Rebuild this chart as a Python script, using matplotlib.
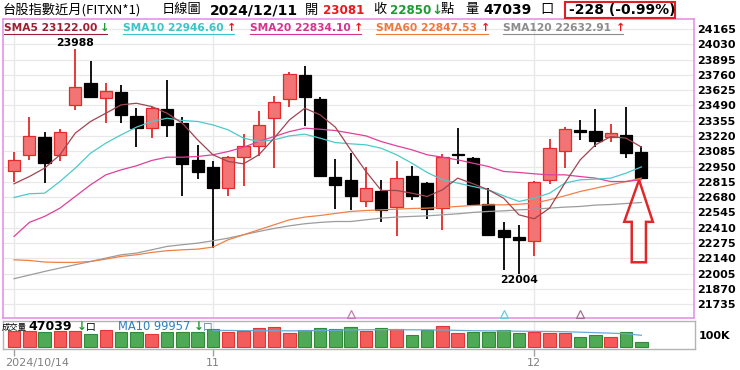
import numpy as np
import matplotlib
matplotlib.use('Agg')
import matplotlib.pyplot as plt
from matplotlib.patches import Rectangle, Polygon
from matplotlib.lines import Line2D

# DATA
# ############################################################################
opens = [22907, 23048, 23207, 23054, 23495, 23686, 23554, 23606, 23398, 23289,
         23459, 23333, 23009, 22942, 22757, 23033, 23133, 23383, 23551, 23759,
         23551, 22862, 22833, 22645, 22736, 22589, 22871, 22804, 22583, 23059,
         23024, 22621, 22392, 22327, 22295, 22833, 23089, 23274, 23268, 23209,
         23230, 23081]
highs = [23077, 23386, 23259, 23280, 23988, 23883, 23686, 23668, 23465, 23480,
         23715, 23386, 23142, 22995, 23045, 23236, 23445, 23574, 23789, 23839,
         23562, 23015, 23068, 22942, 22833, 22995, 22951, 22818, 23062, 23289,
         23033, 22759, 22465, 22436, 22825, 23192, 23298, 23362, 23457, 23324,
         23480, 23136]
lows = [22812, 23009, 22804, 22999, 23448, 23562, 23333, 23339, 23127, 23201,
        23215, 22686, 22839, 22230, 22686, 22780, 23039, 22936, 23480, 23304,
        22862, 22574, 22568, 22592, 22465, 22333, 22651, 22489, 22386, 22974,
        22609, 22339, 22040, 22004, 22157, 22798, 22936, 23186, 23127, 23165,
        23024, 22850]
closes = [23004, 23224, 22980, 23251, 23654, 23568, 23618, 23407, 23289, 23471,
          23318, 22974, 22898, 22765, 23033, 23133, 23318, 23521, 23771, 23568,
          22868, 22789, 22692, 22762, 22568, 22848, 22686, 22577, 23033, 23051,
          22618, 22348, 22327, 22304, 22818, 23112, 23283, 23259, 23180, 23245,
          23074, 22850]

sma5 = [22798, 22862, 22936, 23054, 23245, 23348, 23421, 23495, 23509, 23480,
        23421, 23333, 23186, 23054, 22995, 22974, 23054, 23201, 23362, 23465,
        23407, 23298, 23098, 22907, 22739, 22739, 22715, 22686, 22745, 22848,
        22798, 22745, 22671, 22524, 22489, 22583, 22804, 23009, 23142, 23215,
        23201, 23122]
sma10 = [22677, 22710, 22715, 22818, 22936, 23068, 23157, 23230, 23298, 23348,
         23377, 23357, 23348, 23318, 23274, 23201, 23171, 23186, 23221, 23236,
         23201, 23162, 23151, 23142, 23112, 23054, 22980, 22898, 22833, 22804,
         22774, 22745, 22692, 22642, 22671, 22715, 22804, 22833, 22839, 22848,
         22892, 22947]
sma20 = [22333, 22457, 22510, 22583, 22686, 22789, 22877, 22921, 22957, 23004,
         23033, 23033, 23039, 23054, 23083, 23121, 23171, 23215, 23259, 23289,
         23280, 23268, 23245, 23221, 23171, 23133, 23098, 23054, 23033, 23009,
         22980, 22951, 22907, 22898, 22886, 22877, 22877, 22862, 22848, 22818,
         22818, 22834]
sma60 = [22127, 22121, 22107, 22104, 22104, 22112, 22133, 22157, 22171, 22192,
         22207, 22215, 22221, 22239, 22304, 22348, 22392, 22436, 22480, 22504,
         22518, 22536, 22554, 22562, 22568, 22574, 22580, 22583, 22589, 22598,
         22607, 22612, 22612, 22618, 22627, 22657, 22692, 22730, 22759, 22789,
         22818, 22848]
sma120 = [21960, 21992, 22024, 22054, 22083, 22112, 22142, 22171, 22186, 22215,
          22245, 22260, 22274, 22295, 22318, 22348, 22377, 22404, 22427, 22445,
          22457, 22465, 22465, 22480, 22495, 22504, 22510, 22515, 22524, 22533,
          22545, 22554, 22559, 22568, 22574, 22583, 22592, 22598, 22610, 22615,
          22624, 22633]

volumes = [133000, 133000, 125000, 133000, 138000, 111000, 141000, 130000,
           130000, 111000, 127000, 130000, 125000, 152000, 130000, 136000,
           161000, 172000, 122000, 141000, 158000, 152000, 172000, 133000,
           158000, 152000, 105000, 141000, 180000, 116000, 127000, 127000,
           147000, 116000, 130000, 119000, 116000, 86000, 102000, 86000,
           125000, 47039]
# volume MA10 is only visible from the 14th bar on
vol_ma10 = [np.nan] * 13 + [
    141000, 140000, 139000, 138000, 138000, 137000, 138000, 140000, 142000,
    145000, 146000, 147000, 147000, 146000, 145000, 144000, 141000, 138000,
    137000, 136000, 134000, 133000, 132000, 130000, 126000, 122000, 118000,
    113000, 99957]

price_ticks = [21735 + 135 * k for k in range(19)]
date_ticks = [0, 13, 34]
date_labels = ['2024/10/14', '11', '12']
flag_idx = [22, 32, 37]

# STYLE
# ############################################################################
W, H = 740, 370
CJK = ['Noto Sans CJK TC', 'DejaVu Sans']
RED_FILL, RED_EDGE = '#F27474', '#E42A2A'
V_RED, V_RED_E = '#F45C5C', '#E23535'
V_GRN, V_GRN_E = '#4FAA58', '#2F8A3A'
GRID = '#E8E8E8'
MA_COLORS = {'SMA5': '#9E4552', 'SMA10': '#4CCACA', 'SMA20': '#E0409A',
             'SMA60': '#F08048', 'SMA120': '#9C9C9C'}

fig = plt.figure(figsize=(7.4, 3.7), dpi=100)
fig.patch.set_facecolor('white')


def put(x, y, s, color='black', size=9.5, weight='normal', family=CJK,
        ha='left'):
    fig.text(x / W, 1 - y / H, s, color=color, fontsize=size,
             fontweight=weight, family=family, ha=ha, va='center')


# MAIN PRICE PANEL
# ############################################################################
x = np.arange(len(closes))
o, h, l, c = (np.array(a, dtype=float) for a in (opens, highs, lows, closes))

ax = fig.add_axes([3 / W, 1 - 318 / H, 691 / W, 299 / H])
ax.set_xlim(-0.72, 44.44)
ax.set_ylim(21613, 24253)

for t in price_ticks:
    ax.axhline(t, color=GRID, lw=0.9, zorder=0)
for d in date_ticks:
    ax.axvline(d, color=GRID, lw=1.0, zorder=0)

up = c >= o
wick_col = [RED_EDGE if u else 'black' for u in up]
fill_col = [RED_FILL if u else 'black' for u in up]
ax.vlines(x, l, h, colors=wick_col, lw=1.3, zorder=3)
body_lo = np.minimum(o, c)
body_h = np.maximum(np.abs(c - o), 9)
ax.bar(x, body_h, bottom=body_lo, width=0.8, color=fill_col,
       edgecolor=wick_col, linewidth=0.9, zorder=4)

for name, vals in [('SMA120', sma120), ('SMA60', sma60), ('SMA20', sma20),
                   ('SMA10', sma10), ('SMA5', sma5)]:
    ax.plot(x, vals, color=MA_COLORS[name], lw=0.9, zorder=5)

# high / low labels
i_hi, i_lo = int(np.argmax(h)), int(np.argmin(l))
ax.annotate(f'{h[i_hi]:.0f}', (x[i_hi], h[i_hi]), xytext=(0, 1),
            textcoords='offset points', ha='center', va='bottom',
            fontsize=7.8, fontweight='bold')
ax.annotate(f'{l[i_lo]:.0f}', (x[i_lo], l[i_lo]), xytext=(0, -1),
            textcoords='offset points', ha='center', va='top',
            fontsize=7.8, fontweight='bold')

# hollow red arrow pointing at the last candle
tx, ty = x[-1] - 0.15, c[-1] - 18
arrow = [(tx, ty), (tx + 0.9, ty - 370), (tx + 0.45, ty - 370),
         (tx + 0.45, ty - 727), (tx - 0.48, ty - 727), (tx - 0.48, ty - 370),
         (tx - 0.97, ty - 370)]
ax.add_patch(Polygon(arrow, closed=True, facecolor='none',
                     edgecolor='#E0282A', lw=1.8, zorder=6))

# small event flags at the bottom of the panel
for i, col in zip(flag_idx, ['#C07DA8', '#6CCAD8', '#A0708E']):
    ax.plot(i, 0.012, marker='^', ms=6, mfc='none', mec=col, mew=0.9,
            transform=ax.get_xaxis_transform(), clip_on=False, zorder=6)

ax.yaxis.tick_right()
ax.set_yticks(price_ticks)
ax.set_yticklabels([str(t) for t in price_ticks], fontsize=8,
                   fontweight='bold')
ax.tick_params(axis='y', length=0, pad=2.5)
ax.set_xticks([])
for sp in ax.spines.values():
    sp.set_color('#E493E4')
    sp.set_linewidth(1.2)

# VOLUME PANEL
# ############################################################################
axv = fig.add_axes([3 / W, 1 - 348.7 / H, 692 / W, 27.4 / H])
axv.set_xlim(-0.72, 44.51)
axv.set_ylim(-11700, 216700)
for d in date_ticks[1:]:
    axv.axvline(d, color=GRID, lw=1.0, zorder=0)

prev = np.concatenate([[o[0]], c[:-1]])
v_up = c >= prev
axv.bar(x, volumes, width=0.82,
        color=[V_RED if u else V_GRN for u in v_up],
        edgecolor=[V_RED_E if u else V_GRN_E for u in v_up],
        linewidth=0.8, zorder=2)
axv.plot(x, vol_ma10, color='#6AA8D4', lw=0.9, zorder=3)

axv.yaxis.tick_right()
axv.set_yticks([100000])
axv.set_yticklabels(['100K'], fontsize=8, fontweight='bold')
axv.tick_params(axis='y', length=0, pad=2.5)
axv.set_xticks(date_ticks)
axv.set_xticklabels([''] + date_labels[1:], fontsize=8, color='#808080')
axv.tick_params(axis='x', length=5, width=1, color='#A0A0A0', pad=2)
for sp in axv.spines.values():
    sp.set_color('#B4B4B4')
    sp.set_linewidth(1.0)

put(5, 363, date_labels[0], color='#808080', size=8, family='DejaVu Sans')

# HEADER TEXT
# ############################################################################
put(3, 10, '台股指數近月(FITXN*1)')
put(162, 10, '日線圖')
put(210, 10, '2024/12/11', size=10, weight='bold', family='DejaVu Sans')
put(305, 10, '開')
put(323, 10, '23081', color='#E8191E', size=8.6, weight='bold',
    family='DejaVu Sans')
put(373, 10, '收')
put(390, 10, '22850', color='#1E9B32', size=8.6, weight='bold',
    family='DejaVu Sans')
put(431, 10, '↓', color='#1E9B32', size=9.5, weight='bold',
    family='DejaVu Sans')
put(441, 10, '點')
put(465, 10, '量')
put(483, 10, '47039', size=10, weight='bold', family='DejaVu Sans')
put(540, 10, '口')
fig.add_artist(Rectangle((565 / W, 1 - 18 / H), 110 / W, 16 / H,
                         transform=fig.transFigure, fill=False,
                         edgecolor='#E02020', lw=1.5))
put(569, 10, '-228 (-0.99%)', size=10, weight='bold', family='DejaVu Sans')

# moving average legend: (name, value, text x, arrow x, arrow, arrow colour)
legend = [('SMA5', 23122.00, 4, 100, '↓', '#1E9B32'),
          ('SMA10', 22946.60, 123, 227, '↑', '#E8191E'),
          ('SMA20', 22834.10, 250, 354, '↑', '#E8191E'),
          ('SMA60', 22847.53, 376, 481, '↑', '#E8191E'),
          ('SMA120', 22632.91, 503, 616, '↑', '#E8191E')]
text_cols = {'SMA5': '#A01E32', 'SMA10': '#3CC4C8', 'SMA20': '#D6338F',
             'SMA60': '#F0783C', 'SMA120': '#8C8C8C'}
for name, val, tx0, ax0, arr, acol in legend:
    put(tx0, 28, f'{name} {val:.2f}', color=text_cols[name], size=7.7,
        weight='bold', family='DejaVu Sans')
    put(ax0, 28, arr, color=acol, size=8, weight='bold', family='DejaVu Sans')
    fig.add_artist(Line2D([tx0 / W, (ax0 + 7) / W], [1 - 34 / H, 1 - 34 / H],
                          transform=fig.transFigure,
                          color=text_cols[name], lw=0.8))

# volume legend
put(2, 327, '成交量', size=6)
put(28, 327, f'{volumes[-1]}', size=9, weight='bold', family='DejaVu Sans')
put(77, 327, '↓', color='#1E9B32', size=8.5, weight='bold',
    family='DejaVu Sans')
put(86, 327, '口', size=7)
put(118, 327, f'MA10 {vol_ma10[-1]}', color='#2A7FC0', size=8.3,
    family='DejaVu Sans')
put(194, 327, '↓', color='#1E9B32', size=8.5, weight='bold',
    family='DejaVu Sans')
put(203, 327, '口', color='#5A7FA8', size=7)

fig.savefig('out.png', dpi=100)
